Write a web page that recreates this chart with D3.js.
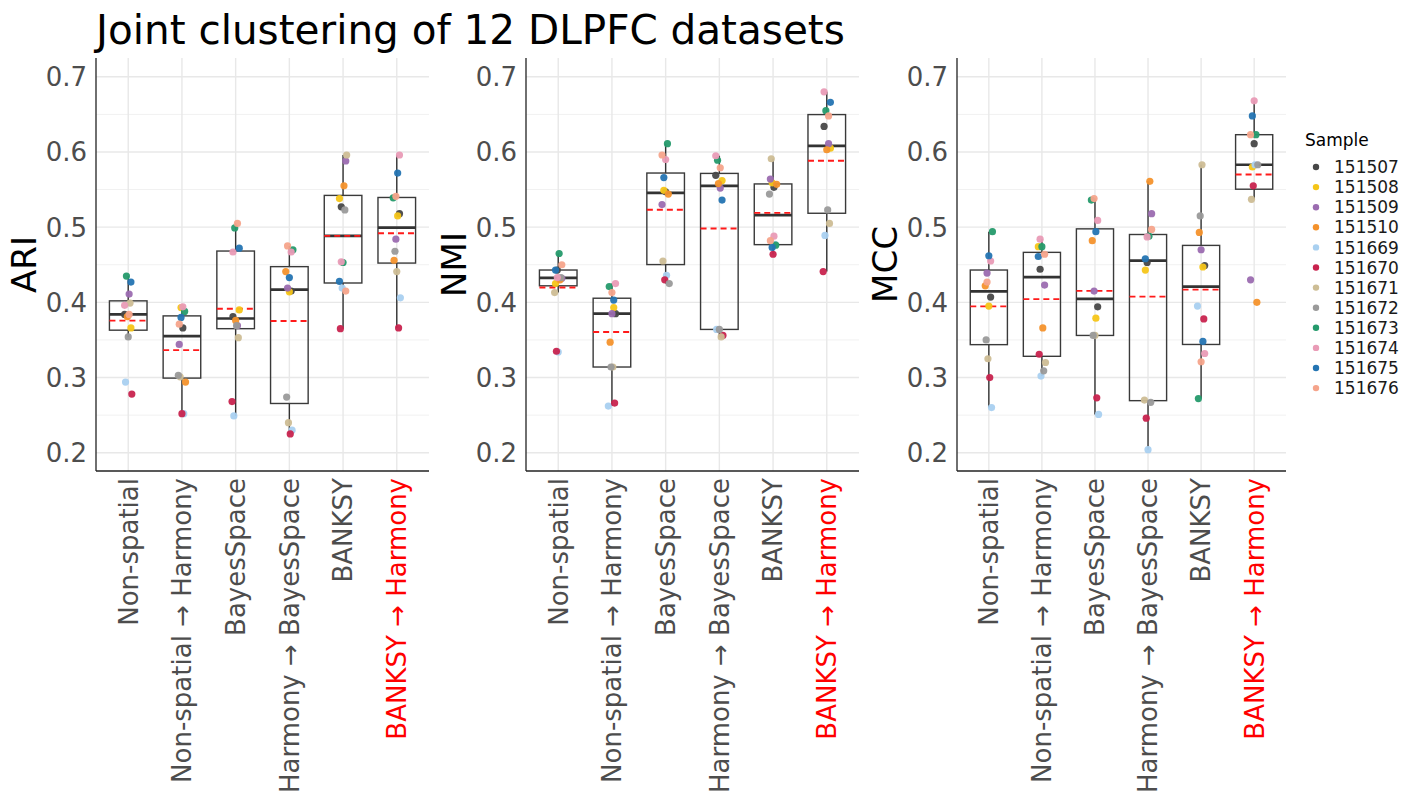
<!DOCTYPE html>
<html>
<head>
<meta charset="utf-8">
<script src="https://cdn.jsdelivr.net/npm/d3@7"></script>
<style>
  body { margin: 0; background: #fff; }
  svg { font-family: "DejaVu Sans", sans-serif; }
</style>
</head>
<body>
<svg id="chart" width="1417" height="804"></svg>
<script>
// samples, in legend order
const samples = ["151507","151508","151509","151510","151669","151670",
                 "151671","151672","151673","151674","151675","151676"];
const sampleColors = ["#474747","#f5c518","#9b6cb0","#f4922c","#a9d0f0","#c8234e",
                      "#cdbd95","#9a9a9a","#259a6c","#e99bb6","#2474b2","#f5a48b"];

const methods = ["Non-spatial", "Non-spatial \u2192 Harmony", "BayesSpace",
                 "Harmony \u2192 BayesSpace", "BANKSY", "BANKSY \u2192 Harmony"];

const yTicks = [0.2, 0.3, 0.4, 0.5, 0.6, 0.7];

// one array per method, values in sample order
const ari = [
  [.384,.366,.411,.381,.294,.278,.399,.354,.435,.396,.427,.384],
  [.366,.393,.344,.294,.252,.252,.301,.303,.388,.394,.380,.371],
  [.381,.390,.369,.376,.249,.268,.353,.369,.499,.467,.472,.505],
  [.415,.414,.419,.441,.230,.225,.240,.274,.470,.467,.433,.475],
  [.527,.538,.588,.555,.419,.365,.596,.523,.453,.454,.428,.415],
  [.518,.515,.484,.456,.406,.366,.441,.468,.539,.596,.572,.541]
];
const nmi = [
  [.443,.425,.432,.430,.334,.335,.413,.433,.465,.433,.443,.450],
  [.385,.393,.385,.347,.262,.266,.314,.314,.421,.425,.403,.413],
  [.547,.549,.530,.544,.436,.430,.455,.425,.611,.590,.566,.596],
  [.569,.562,.552,.558,.364,.356,.354,.364,.589,.595,.536,.579],
  [.553,.559,.564,.557,.477,.464,.591,.544,.476,.488,.473,.482],
  [.634,.605,.611,.603,.489,.441,.505,.523,.655,.680,.666,.648]
];
const mcc = [
  [.407,.395,.439,.422,.260,.300,.325,.350,.494,.455,.462,.427],
  [.444,.474,.423,.366,.302,.331,.320,.309,.474,.484,.461,.464],
  [.394,.379,.415,.482,.251,.273,.356,.356,.536,.509,.494,.538],
  [.453,.443,.518,.561,.204,.246,.270,.267,.488,.487,.458,.497],
  [.449,.447,.470,.493,.395,.378,.583,.515,.272,.332,.348,.321],
  [.611,.580,.430,.400,.583,.555,.537,.583,.623,.668,.648,.623]
];

const svg = d3.select("#chart");

svg.append("text")
  .attr("x", 96).attr("y", 44)
  .attr("font-size", 40.5).attr("fill", "#000")
  .text("Joint clustering of 12 DLPFC datasets");

const yTop = 58, yBottom = 471;
const y = d3.scaleLinear().domain([0.1757, 0.725]).range([yBottom, yTop]);

const panels = [
  {name: "ARI", data: ari, left: 96,  right: 429},
  {name: "NMI", data: nmi, left: 526, right: 859},
  {name: "MCC", data: mcc, left: 957, right: 1286}
];

panels.forEach((p, pi) => {
  const x = d3.scalePoint().domain(methods).range([p.left, p.right]).padding(0.6);
  const g = svg.append("g");
  const bw = x.step() * 0.7;

  // grid
  const minor = d3.range(0.15, 0.75, 0.1).map(v => +v.toFixed(2));
  g.selectAll(".minor").data(minor.filter(v => y(v) > yTop && y(v) < yBottom)).join("line")
    .attr("x1", p.left).attr("x2", p.right)
    .attr("y1", d => y(d)).attr("y2", d => y(d))
    .attr("stroke", "#f1f1f1").attr("stroke-width", 1);
  g.selectAll(".major").data(yTicks).join("line")
    .attr("x1", p.left).attr("x2", p.right)
    .attr("y1", d => y(d)).attr("y2", d => y(d))
    .attr("stroke", "#e8e8e8").attr("stroke-width", 1.4);
  g.selectAll(".vg").data(methods).join("line")
    .attr("x1", d => x(d)).attr("x2", d => x(d))
    .attr("y1", yTop).attr("y2", yBottom)
    .attr("stroke", "#e8e8e8").attr("stroke-width", 1.4);

  // boxes
  p.data.forEach((vals, mi) => {
    const cx = x(methods[mi]);
    const s = vals.slice().sort(d3.ascending);
    const q1 = d3.quantile(s, 0.25), med = d3.quantile(s, 0.5), q3 = d3.quantile(s, 0.75);
    const iqr = q3 - q1;
    const lo = d3.min(s.filter(v => v >= q1 - 1.5 * iqr));
    const hi = d3.max(s.filter(v => v <= q3 + 1.5 * iqr));
    const mean = d3.mean(vals);
    const bg = g.append("g");
    bg.append("line").attr("x1", cx).attr("x2", cx).attr("y1", y(q3)).attr("y2", y(hi))
      .attr("stroke", "#333").attr("stroke-width", 1.4);
    bg.append("line").attr("x1", cx).attr("x2", cx).attr("y1", y(q1)).attr("y2", y(lo))
      .attr("stroke", "#333").attr("stroke-width", 1.4);
    bg.append("rect").attr("x", cx - bw / 2).attr("width", bw)
      .attr("y", y(q3)).attr("height", y(q1) - y(q3))
      .attr("fill", "none").attr("stroke", "#3a3a3a").attr("stroke-width", 1.4);
    bg.append("line").attr("x1", cx - bw / 2).attr("x2", cx + bw / 2)
      .attr("y1", y(med)).attr("y2", y(med))
      .attr("stroke", "#333").attr("stroke-width", 2.7);
    bg.append("line").attr("x1", cx - bw / 2).attr("x2", cx + bw / 2)
      .attr("y1", y(mean)).attr("y2", y(mean))
      .attr("stroke", "#ff1a1a").attr("stroke-width", 1.9).attr("stroke-dasharray", "6,4");

    // jittered points (deterministic jitter)
    bg.selectAll("circle").data(vals).join("circle")
      .attr("cx", (d, i) => cx + (((i * 7 + mi * 5 + pi * 3) % 9) - 4) * 0.9)
      .attr("cy", d => y(d))
      .attr("r", 3.6)
      .attr("fill", (d, i) => sampleColors[i])
      .attr("opacity", 0.95);
  });

  // axis lines
  g.append("line").attr("x1", p.left).attr("x2", p.left).attr("y1", yTop).attr("y2", yBottom)
    .attr("stroke", "#222").attr("stroke-width", 1.3);
  g.append("line").attr("x1", p.left).attr("x2", p.right).attr("y1", yBottom).attr("y2", yBottom)
    .attr("stroke", "#222").attr("stroke-width", 1.3);

  // y tick labels
  g.selectAll(".yl").data(yTicks).join("text")
    .attr("x", p.left - 9).attr("y", d => y(d)).attr("dy", "0.36em")
    .attr("text-anchor", "end").attr("font-size", 26).attr("fill", "#4d4d4d")
    .text(d => d.toFixed(1));

  // y title
  g.append("text")
    .attr("transform", `translate(${p.left - 60},${(yTop + yBottom) / 2}) rotate(-90)`)
    .attr("text-anchor", "middle").attr("font-size", 34).attr("fill", "#000")
    .text(p.name);

  // x labels
  g.selectAll(".xl").data(methods).join("text")
    .attr("transform", d => `translate(${x(d)},${yBottom + 7}) rotate(-90)`)
    .attr("dy", "0.36em").attr("text-anchor", "end")
    .attr("font-size", 26)
    .attr("fill", (d, i) => i === methods.length - 1 ? "#ff0000" : "#4d4d4d")
    .text(d => d);
});

// legend
const lg = svg.append("g");
lg.append("text").attr("x", 1305).attr("y", 146).attr("font-size", 17).attr("fill", "#000").text("Sample");
samples.forEach((s, i) => {
  const yy = 167 + i * 20.1;
  lg.append("circle").attr("cx", 1316).attr("cy", yy).attr("r", 3.2).attr("fill", sampleColors[i]);
  lg.append("text").attr("x", 1334).attr("y", yy).attr("dy", "0.36em")
    .attr("font-size", 17).attr("fill", "#1a1a1a").text(s);
});
</script>
</body>
</html>
